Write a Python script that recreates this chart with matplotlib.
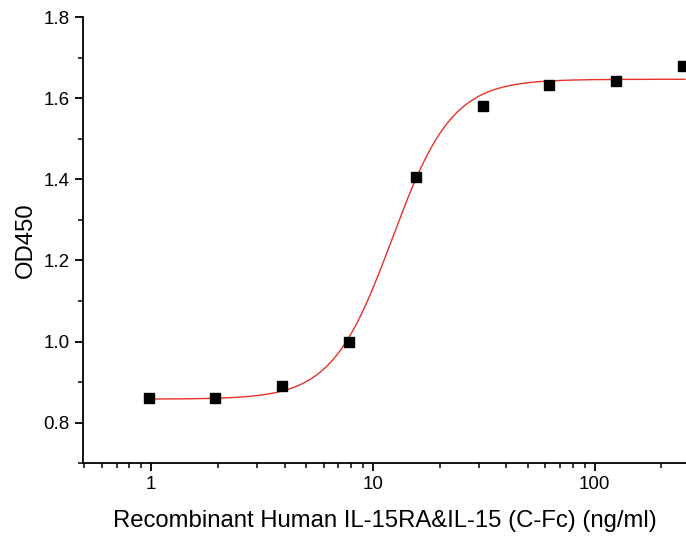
import matplotlib
matplotlib.use('Agg')
import matplotlib.pyplot as plt
import numpy as np
from matplotlib.ticker import LogLocator, MultipleLocator, FixedLocator

conc = [0.977, 1.953, 3.906, 7.8125, 15.625, 31.25, 62.5, 125.0, 250.0]
od450 = [0.862, 0.860, 0.891, 1.000, 1.405, 1.580, 1.632, 1.642, 1.679]

# four-parameter logistic fit
fit_bottom = 0.858
fit_top = 1.647
fit_ec50 = 12.2
fit_hill = 3.2


def plot():
    plt.rc('font', family=['Liberation Sans', 'DejaVu Sans'])
    fig = plt.figure(figsize=(6.86, 5.38), dpi=100)
    ax = fig.add_axes([0.121, 0.139, 0.879, 0.829])

    xs = np.logspace(np.log10(0.97), np.log10(255), 400)
    ys = fit_bottom + (fit_top - fit_bottom) / (1 + (fit_ec50 / xs) ** fit_hill)
    ax.plot(xs, ys, color='#e8302a', lw=1.0, zorder=2)
    ax.plot(conc, od450, ls='none', marker='s', ms=7.5, color='black', zorder=3,
            clip_on=False)

    ax.set_xscale('log')
    ax.set_xlim(0.494, 258)
    ax.set_ylim(0.7, 1.8)
    ax.xaxis.set_major_locator(FixedLocator([1, 10, 100]))
    ax.xaxis.set_major_formatter(plt.FuncFormatter(lambda v, p: '%g' % v))
    ax.xaxis.set_minor_locator(LogLocator(base=10, subs=np.arange(2, 10)))
    ax.xaxis.set_minor_formatter(plt.NullFormatter())
    ax.yaxis.set_major_locator(MultipleLocator(0.2))
    ax.yaxis.set_minor_locator(MultipleLocator(0.1))
    ax.yaxis.set_major_formatter(plt.FuncFormatter(lambda v, p: '%.1f' % v))

    for s in ['top', 'right']:
        ax.spines[s].set_visible(False)
    for s in ['left', 'bottom']:
        ax.spines[s].set_linewidth(1.3)
    ax.tick_params(which='major', direction='out', length=6, width=1.3, labelsize=13.5)
    ax.tick_params(which='minor', direction='out', length=3.5, width=1.1)

    ax.set_xlabel('Recombinant Human IL-15RA&IL-15 (C-Fc) (ng/ml)', fontsize=17.2, labelpad=12)
    ax.set_ylabel('OD450', fontsize=17.2, labelpad=5)

    fig.savefig('out.png', dpi=100)


if __name__ == '__main__':
    plot()
